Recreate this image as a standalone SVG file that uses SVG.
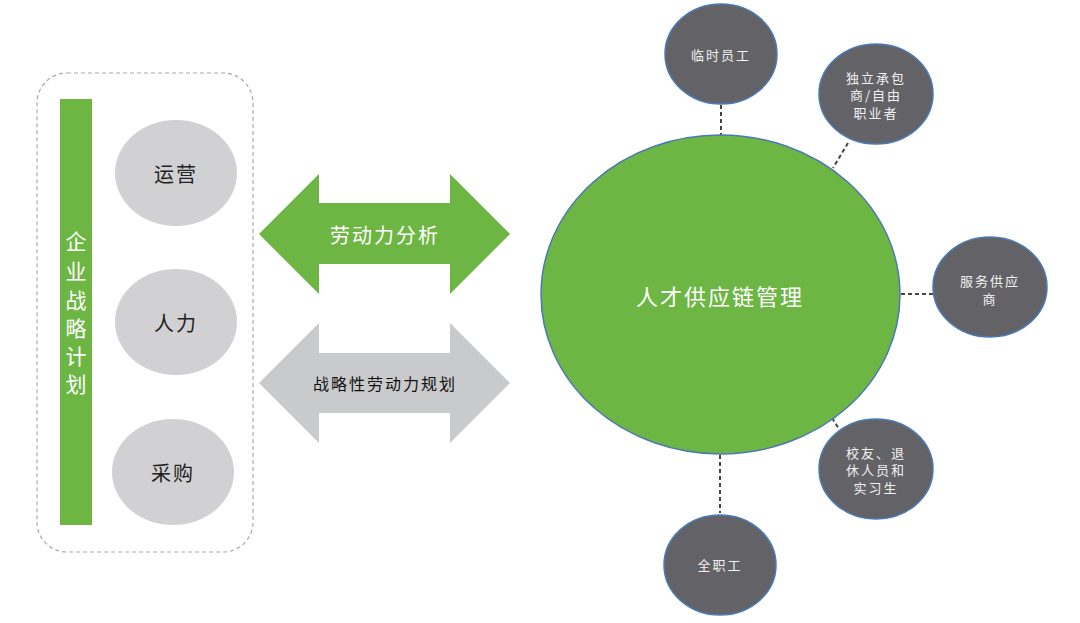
<svg xmlns="http://www.w3.org/2000/svg" width="1080" height="623" viewBox="0 0 1080 623">
<style>
text{font-family:"Noto Sans CJK SC","Noto Sans",sans-serif;text-anchor:middle;dominant-baseline:central}
.g{fill:#d1d1d3}
.gt{font-size:20px;fill:#222;letter-spacing:2px}
.d{fill:#636266;stroke:#4a7ab3;stroke-width:1.5}
.dt{font-size:13px;fill:#f2f2f2;letter-spacing:2px}
.c{stroke:#444;stroke-width:2;stroke-dasharray:4 3;fill:none}
</style>
<rect x="0" y="0" width="1080" height="623" fill="#fff"/>
<g id="plan">
<rect x="37" y="73" width="216" height="479" rx="30" ry="30" fill="none" stroke="#aaa" stroke-width="1.2" stroke-dasharray="4 3"/>
<rect x="60" y="99" width="32" height="426" fill="#6db644"/>
<text x="76" y="240" font-size="21" fill="#fff">企</text>
<text x="76" y="270" font-size="21" fill="#fff">业</text>
<text x="76" y="299" font-size="21" fill="#fff">战</text>
<text x="76" y="327" font-size="21" fill="#fff">略</text>
<text x="76" y="355" font-size="21" fill="#fff">计</text>
<text x="76" y="383" font-size="21" fill="#fff">划</text>
</g>
<g id="ops"><ellipse class="g" cx="176" cy="173" rx="61" ry="53"/><text class="gt" x="176" y="173">运营</text></g>
<g id="hr"><ellipse class="g" cx="176" cy="322" rx="61" ry="53"/><text class="gt" x="176" y="322">人力</text></g>
<g id="purchase"><ellipse class="g" cx="173" cy="472" rx="61" ry="53"/><text class="gt" x="173" y="472">采购</text></g>
<g id="analysis">
<polygon points="259,234 319,174 319,203 450,203 450,174 510,234 450,294 450,264 319,264 319,294" fill="#6db644"/>
<text x="385" y="234" font-size="20" fill="#fff" letter-spacing="2">劳动力分析</text>
</g>
<g id="planning">
<polygon points="259,383 319,323 319,353 450,353 450,323 510,383 450,443 450,413 319,413 319,443" fill="#c9cacc"/>
<text x="385" y="383" font-size="16" fill="#111" letter-spacing="2">战略性劳动力规划</text>
</g>
<g id="connectors">
<line class="c" x1="721" y1="105" x2="721" y2="135"/>
<line class="c" x1="848" y1="143" x2="833" y2="168"/>
<line class="c" x1="901" y1="294" x2="933" y2="294"/>
<line class="c" x1="832" y1="418" x2="839" y2="429"/>
<line class="c" x1="720" y1="455" x2="720" y2="513"/>
</g>
<g id="tscm">
<ellipse cx="720.5" cy="294.5" rx="179.5" ry="159.5" fill="#6db644" stroke="#4a7ab3" stroke-width="1.5"/>
<text x="720" y="295" font-size="22" fill="#fff" letter-spacing="2">人才供应链管理</text>
</g>
<g id="temp"><ellipse class="d" cx="721" cy="54" rx="56" ry="50"/><text class="dt" x="721" y="54">临时员工</text></g>
<g id="contractor"><ellipse class="d" cx="876" cy="94" rx="57" ry="50"/>
<text class="dt" x="876" y="77">独立承包</text><text class="dt" x="876" y="94">商/自由</text><text class="dt" x="876" y="112">职业者</text></g>
<g id="service"><ellipse class="d" cx="990" cy="287" rx="57" ry="50"/>
<text class="dt" x="990" y="280">服务供应</text><text class="dt" x="990" y="298">商</text></g>
<g id="alumni"><ellipse class="d" cx="876" cy="469" rx="57" ry="50"/>
<text class="dt" x="876" y="452">校友、退</text><text class="dt" x="876" y="469">休人员和</text><text class="dt" x="876" y="487">实习生</text></g>
<g id="fulltime"><ellipse class="d" cx="720" cy="565" rx="56" ry="50"/><text class="dt" x="720" y="564">全职工</text></g>
</svg>
